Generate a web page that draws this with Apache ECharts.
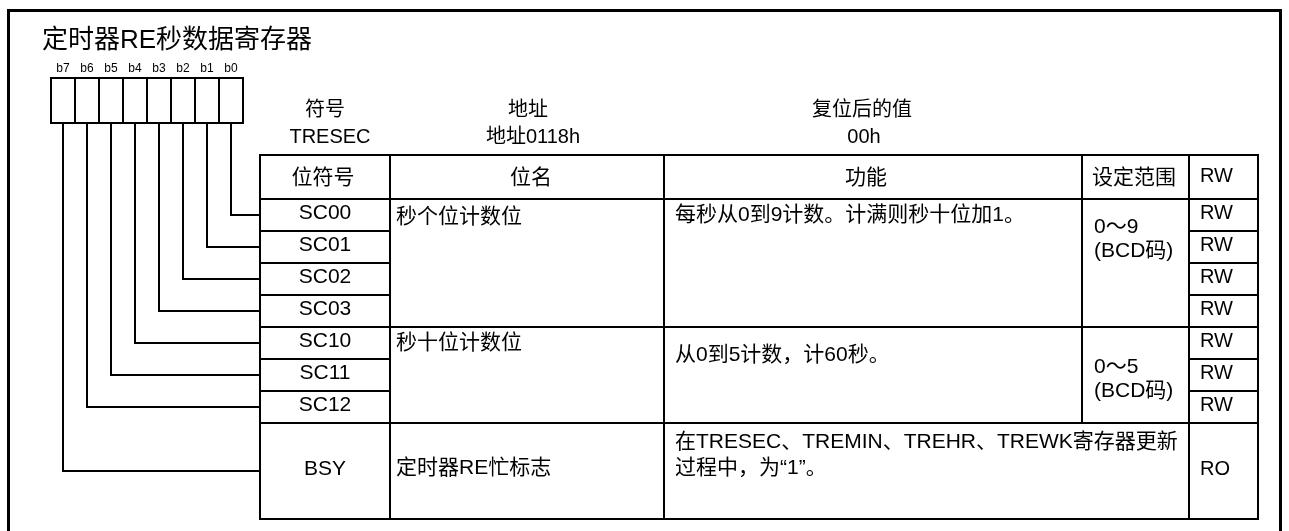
<!DOCTYPE html>
<html>
<head>
<meta charset="utf-8">
<script src="https://cdn.jsdelivr.net/npm/echarts@6/dist/echarts.min.js"></script>
<style>
html,body{margin:0;padding:0;background:#ffffff;}
#chart{width:1289px;height:531px;}
</style>
</head>
<body>
<div id="chart"></div>
<script>
// ---------------- data ----------------
const titleText = '定时器RE秒数据寄存器';
const bitLabels = ['b7', 'b6', 'b5', 'b4', 'b3', 'b2', 'b1', 'b0'];
const infoLabels = ['符号', '地址', '复位后的值'];
const infoValues = ['TRESEC', '地址0118h', '00h'];
const columnHeaders = ['位符号', '位名', '功能', '设定范围', 'RW'];
const bitSymbols = ['SC00', 'SC01', 'SC02', 'SC03', 'SC10', 'SC11', 'SC12', 'BSY'];
const bitNumbers = [0, 1, 2, 3, 4, 5, 6, 7];
const accessModes = ['RW', 'RW', 'RW', 'RW', 'RW', 'RW', 'RW', 'RO'];
const rowSpans = [1, 1, 1, 1, 1, 1, 1, 3];
const groupNames = ['秒个位计数位', '秒十位计数位', '定时器RE忙标志'];
const groupFunctions = [
  ['每秒从0到9计数。计满则秒十位加1。'],
  ['从0到5计数，计60秒。'],
  ['在TRESEC、TREMIN、TREHR、TREWK寄存器更新', '过程中，为“1”。']
];
const groupRanges = [['0～9', '(BCD码)'], ['0～5', '(BCD码)'], []];
const groupSizes = [4, 3, 1];

// ---------------- layout (positions / styles) ----------------
const FONT = "'Liberation Sans','Noto Sans CJK SC',sans-serif";
const INK = '#000000';
const L = {
  frame: { left: 8.5, top: 10.5, right: 1280.5, bottom: 560 },
  frameW: 3,
  title: { x: 42, y: 41, size: 26 },
  bitLabel: { y: 69, size: 12 },
  box: { left: 51, top: 78, bottom: 123, width: 24 },
  infoX1: [325, 528, 862], infoX2: [330, 533, 864], infoY1: 110.5, infoY2: 137.5,
  cols: [260, 390, 664, 1082, 1189, 1258],
  headerTop: 155, headerBottom: 199, rowH: 32,
  headerTextX: [323, 531, 866, 1134, 1200], headerTextY: 178,
  textSize: 21, accessSize: 20, lineW: 2,
  symbolX: 325, accessX: 1200, nameX: 396, funcX: 675, rangeX: 1094,
  latinDy: -2,
  nameDy: [18, 16, 45], funcDy: [16, 28, 19], funcStep: 26,
  rangeDy: [28, 40, 0], rangeStep: 24
};

// row geometry derived from spans
const rowTops = [];
(function () {
  let y = L.headerBottom;
  rowSpans.forEach(function (s) { rowTops.push(y); y += s * L.rowH; });
})();
const tableBottom = rowTops[rowTops.length - 1] + rowSpans[rowSpans.length - 1] * L.rowH;
const groupStart = [];
(function () { let r = 0; groupSizes.forEach(function (n) { groupStart.push(r); r += n; }); })();

function P(api, x, y) { return api.coord([x, y]); }
function line(api, x1, y1, x2, y2, w) {
  const a = P(api, x1, y1), b = P(api, x2, y2);
  return { type: 'line', shape: { x1: a[0], y1: a[1], x2: b[0], y2: b[1] },
    style: { stroke: INK, lineWidth: w || L.lineW, lineCap: 'square' } };
}
function text(api, str, x, y, size, align) {
  const a = P(api, x, y);
  return { type: 'text', style: { text: str, x: a[0], y: a[1], fill: INK,
    fontSize: size, fontFamily: FONT, fontWeight: 'normal',
    align: align || 'left', verticalAlign: 'middle' } };
}
function idx(arr) { return arr.map(function (_, i) { return [i, 0]; }); }
function custom(name, data, render) {
  return { type: 'custom', name: name, coordinateSystem: 'cartesian2d', data: data,
    renderItem: render, clip: false, silent: true, animation: false };
}

const series = [
  // outer frame + title
  custom('frame', [[0, 0]], function (params, api) {
    const f = L.frame;
    const pts = [P(api, f.left, f.bottom), P(api, f.left, f.top), P(api, f.right, f.top), P(api, f.right, f.bottom)];
    return { type: 'group', children: [
      { type: 'polyline', shape: { points: pts }, style: { stroke: INK, fill: null, lineWidth: L.frameW } },
      text(api, titleText, L.title.x, L.title.y, L.title.size, 'left')
    ] };
  }),
  // register info
  custom('info', idx(infoLabels), function (params, api) {
    const i = params.dataIndex;
    return { type: 'group', children: [
      text(api, infoLabels[i], L.infoX1[i], L.infoY1, L.textSize - 1, 'center'),
      text(api, infoValues[i], L.infoX2[i], L.infoY2, L.textSize - 1, 'center')
    ] };
  }),
  // bit boxes
  custom('bits', idx(bitLabels), function (params, api) {
    const i = params.dataIndex, b = L.box;
    const x0 = b.left + i * b.width;
    const a = P(api, x0, b.top), c = P(api, x0 + b.width, b.bottom);
    return { type: 'group', children: [
      { type: 'rect', shape: { x: a[0], y: a[1], width: c[0] - a[0], height: c[1] - a[1] },
        style: { stroke: INK, fill: null, lineWidth: L.lineW } },
      text(api, bitLabels[i], x0 + b.width / 2, L.bitLabel.y, L.bitLabel.size, 'center')
    ] };
  }),
  // table skeleton and headers
  custom('headers', idx(columnHeaders), function (params, api) {
    const i = params.dataIndex, c = L.cols;
    const kids = [text(api, columnHeaders[i], L.headerTextX[i], L.headerTextY - (i === 4 ? 2 : 0),
      i === 4 ? L.accessSize : L.textSize, i === 4 ? 'left' : 'center')];
    if (i === 0) {
      kids.push(line(api, c[0], L.headerTop, c[5], L.headerTop));
      kids.push(line(api, c[0], L.headerBottom, c[5], L.headerBottom));
      kids.push(line(api, c[0], tableBottom, c[5], tableBottom));
      [0, 1, 2, 4, 5].forEach(function (k) { kids.push(line(api, c[k], L.headerTop, c[k], tableBottom)); });
      kids.push(line(api, c[3], L.headerTop, c[3], L.headerBottom));
    }
    return { type: 'group', children: kids };
  }),
  // rows: bit symbol, access, connectors
  custom('rows', idx(bitSymbols), function (params, api) {
    const r = params.dataIndex, c = L.cols;
    const top = rowTops[r], h = rowSpans[r] * L.rowH, mid = top + h / 2;
    const bit = bitNumbers[r];
    const bx = L.box.left + (bitLabels.length - 1 - bit) * L.box.width + L.box.width / 2;
    const pts = [P(api, bx, L.box.bottom), P(api, bx, mid), P(api, c[0], mid)];
    const kids = [
      text(api, bitSymbols[r], L.symbolX, mid + L.latinDy, L.textSize, 'center'),
      text(api, accessModes[r], L.accessX, mid + L.latinDy, L.accessSize, 'left'),
      { type: 'polyline', shape: { points: pts }, style: { stroke: INK, fill: null, lineWidth: L.lineW } }
    ];
    if (r < bitSymbols.length - 1) {
      kids.push(line(api, c[0], top + h, c[1], top + h));
      kids.push(line(api, c[4], top + h, c[5], top + h));
    }
    return { type: 'group', children: kids };
  }),
  // field groups: name, function, range
  custom('groups', idx(groupNames), function (params, api) {
    const g = params.dataIndex, c = L.cols;
    const r0 = groupStart[g], r1 = r0 + groupSizes[g] - 1;
    const top = rowTops[r0], bottom = rowTops[r1] + rowSpans[r1] * L.rowH;
    const kids = [text(api, groupNames[g], L.nameX, top + L.nameDy[g], L.textSize, 'left')];
    groupFunctions[g].forEach(function (s, k) {
      kids.push(text(api, s, L.funcX, top + L.funcDy[g] + k * L.funcStep, L.textSize, 'left'));
    });
    groupRanges[g].forEach(function (s, k) {
      kids.push(text(api, s, L.rangeX, top + L.rangeDy[g] + k * L.rangeStep, L.textSize, 'left'));
    });
    if (groupRanges[g].length) kids.push(line(api, c[3], top, c[3], bottom));
    if (g < groupNames.length - 1) kids.push(line(api, c[1], bottom, c[4], bottom));
    return { type: 'group', children: kids };
  })
];

const chart = echarts.init(document.getElementById('chart'), null, { renderer: 'canvas' });
chart.setOption({
  animation: false,
  backgroundColor: '#ffffff',
  grid: { left: 0, right: 0, top: 0, bottom: 0 },
  xAxis: { type: 'value', min: 0, max: 1289, show: false },
  yAxis: { type: 'value', min: 0, max: 531, inverse: true, show: false },
  series: series
});
</script>
</body>
</html>
